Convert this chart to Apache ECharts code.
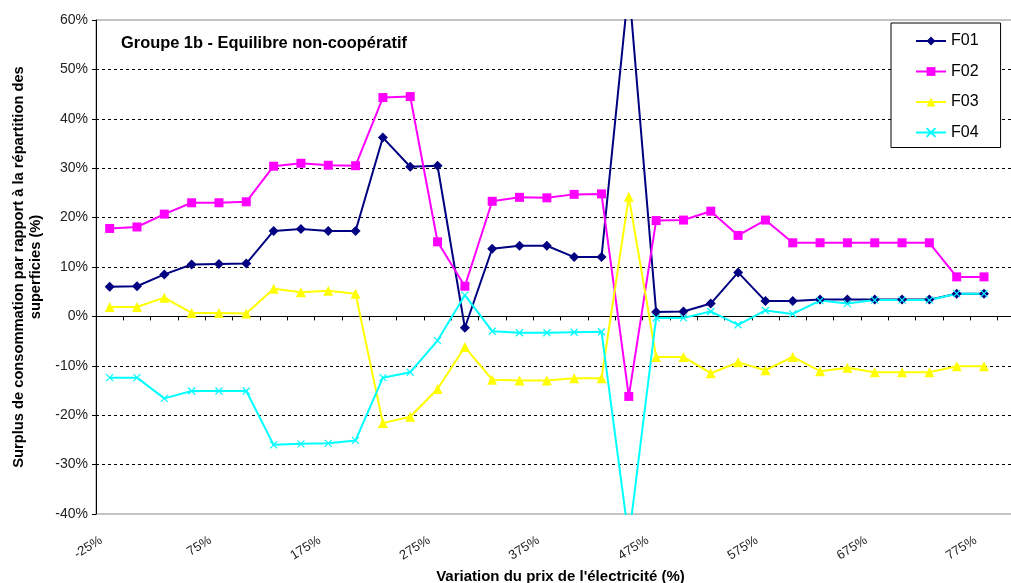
<!DOCTYPE html>
<html>
<head>
<meta charset="utf-8">
<title>Groupe 1b - Equilibre non-coopératif</title>
<script src="https://cdn.jsdelivr.net/npm/echarts@6/dist/echarts.min.js"></script>
<style>
  html, body { margin: 0; padding: 0; background: #fff; }
  #chart { width: 1011px; height: 583px; }
</style>
</head>
<body>
<div id="chart"></div>
<script>
// Price variation categories (%)
const categories = [
  '-25%', '0%', '25%', '50%', '75%', '100%', '125%', '150%', '175%', '200%',
  '225%', '250%', '275%', '300%', '325%', '350%', '375%', '400%', '425%', '450%',
  '475%', '500%', '525%', '550%', '575%', '600%', '625%', '650%', '675%', '700%',
  '725%', '750%', '775%'
];

// Consumption surplus per farm (%)
const f01 = [6.0, 6.1, 8.5, 10.5, 10.6, 10.7, 17.3, 17.7, 17.3, 17.3,
  36.2, 30.3, 30.5, -2.3, 13.7, 14.3, 14.3, 12.0, 12.0, 67.0,
  0.9, 1.0, 2.6, 8.9, 3.1, 3.1, 3.4, 3.4, 3.4, 3.4,
  3.4, 4.6, 4.6];
const f02 = [17.8, 18.1, 20.7, 23.0, 23.0, 23.2, 30.4, 31.0, 30.6, 30.5,
  44.3, 44.5, 15.1, 6.1, 23.3, 24.1, 24.0, 24.7, 24.8, -16.2,
  19.4, 19.5, 21.3, 16.4, 19.5, 14.9, 14.9, 14.9, 14.9, 14.9,
  14.9, 8.0, 8.0];
const f03 = [1.9, 1.9, 3.8, 0.7, 0.7, 0.6, 5.6, 4.9, 5.2, 4.6,
  -21.6, -20.3, -14.7, -6.2, -12.8, -13.0, -13.0, -12.5, -12.5, 24.2,
  -8.2, -8.2, -11.5, -9.3, -10.9, -8.2, -11.1, -10.4, -11.3, -11.3,
  -11.3, -10.1, -10.1];
const f04 = [-12.4, -12.4, -16.6, -15.1, -15.1, -15.1, -26.0, -25.8, -25.7, -25.1,
  -12.4, -11.3, -4.9, 4.3, -3.0, -3.3, -3.3, -3.2, -3.1, -45.0,
  -0.3, -0.3, 1.0, -1.7, 1.2, 0.5, 3.2, 2.6, 3.3, 3.3,
  3.3, 4.6, 4.6];

const seriesNames = ['F01', 'F02', 'F03', 'F04'];

const FONT = '"Liberation Sans", Arial, sans-serif';
const crossPath = 'path://M0,0L10,10M10,0L0,10';

// dashed grid lines, hidden at the frame (-40, 60) and at the zero axis
const splitColors = ['rgba(0,0,0,0)', '#000', '#000', '#000', 'rgba(0,0,0,0)',
  '#000', '#000', '#000', '#000', '#000', 'rgba(0,0,0,0)'];

function lineSeries(name, data, color, symbol, size, extraItem) {
  return {
    name: name,
    type: 'line',
    xAxisIndex: 0,
    data: data,
    symbol: symbol,
    symbolSize: size,
    showAllSymbol: true,
    lineStyle: { color: color, width: 2 },
    itemStyle: Object.assign({ color: color }, extraItem || {}),
    emphasis: { disabled: true },
    animation: false
  };
}

const chart = echarts.init(document.getElementById('chart'), null, { renderer: 'canvas' });

chart.setOption({
  backgroundColor: '#fff',
  animation: false,
  textStyle: { fontFamily: FONT },
  title: {
    text: 'Groupe 1b - Equilibre non-coopératif',
    left: 116,
    top: 30,
    textStyle: { fontFamily: FONT, fontSize: 16.4, fontWeight: 'bold', color: '#000' }
  },
  legend: {
    orient: 'vertical',
    left: 891,
    top: 23,
    padding: [8, 22, 5, 24],
    itemWidth: 30,
    itemHeight: 11,
    itemGap: 10.5,
    backgroundColor: '#fff',
    borderColor: '#000',
    borderWidth: 1,
    textStyle: { fontFamily: FONT, fontSize: 16, color: '#000', lineHeight: 20 },
    data: seriesNames
  },
  grid: {
    left: 96,
    top: 20,
    bottom: 69,
    width: 929,
    outerBoundsMode: 'none',
    show: true,
    borderColor: '#888',
    borderWidth: 1,
    backgroundColor: '#fff',
    containLabel: false
  },
  xAxis: [
    {
      // axis line drawn through zero, with ticks between categories
      type: 'category',
      data: categories,
      max: categories.length,
      position: 'top',
      boundaryGap: true,
      axisLine: { show: true, onZero: true, lineStyle: { color: '#000', width: 1 } },
      axisTick: { show: true, inside: true, length: 4, interval: 0, lineStyle: { color: '#000' } },
      axisLabel: { show: false },
      splitLine: { show: false }
    },
    {
      // category labels along the bottom of the plot
      type: 'category',
      data: categories,
      max: categories.length,
      position: 'bottom',
      boundaryGap: true,
      axisLine: { show: false, onZero: false },
      axisTick: { show: false },
      axisLabel: {
        show: true,
        interval: 3,
        rotate: 32,
        margin: 20,
        padding: [0, 10, 0, 0],
        fontFamily: FONT,
        fontSize: 13,
        color: '#222'
      },
      splitLine: { show: false },
      name: "Variation du prix de l'électricité (%)",
      nameLocation: 'middle',
      nameGap: 54,
      nameTextStyle: { fontFamily: FONT, fontSize: 15, fontWeight: 'bold', color: '#000' }
    }
  ],
  yAxis: {
    type: 'value',
    min: -40,
    max: 60,
    interval: 10,
    axisLine: { show: true, onZero: false, lineStyle: { color: '#000', width: 1 } },
    axisTick: { show: true, length: 4, lineStyle: { color: '#000' } },
    axisLabel: {
      formatter: '{value}%',
      fontFamily: FONT,
      fontSize: 14,
      color: '#222',
      margin: 8
    },
    splitLine: {
      show: true,
      lineStyle: { color: splitColors, type: [3, 3], width: 1 }
    },
    name: 'Surplus de consommation par rapport à la répartition des\nsuperficies (%)',
    nameLocation: 'middle',
    nameGap: 52,
    nameTextStyle: {
      fontFamily: FONT,
      fontSize: 14.7,
      fontWeight: 'bold',
      color: '#000',
      lineHeight: 17,
      align: 'center'
    }
  },
  series: [
    lineSeries('F01', f01, '#000080', 'diamond', [10, 10]),
    lineSeries('F02', f02, '#FF00FF', 'rect', 9),
    lineSeries('F03', f03, '#FFFF00', 'triangle', 10),
    lineSeries('F04', f04, '#00FFFF', crossPath, 7, { borderColor: '#00FFFF', borderWidth: 1.2 })
  ]
});
</script>
</body>
</html>
